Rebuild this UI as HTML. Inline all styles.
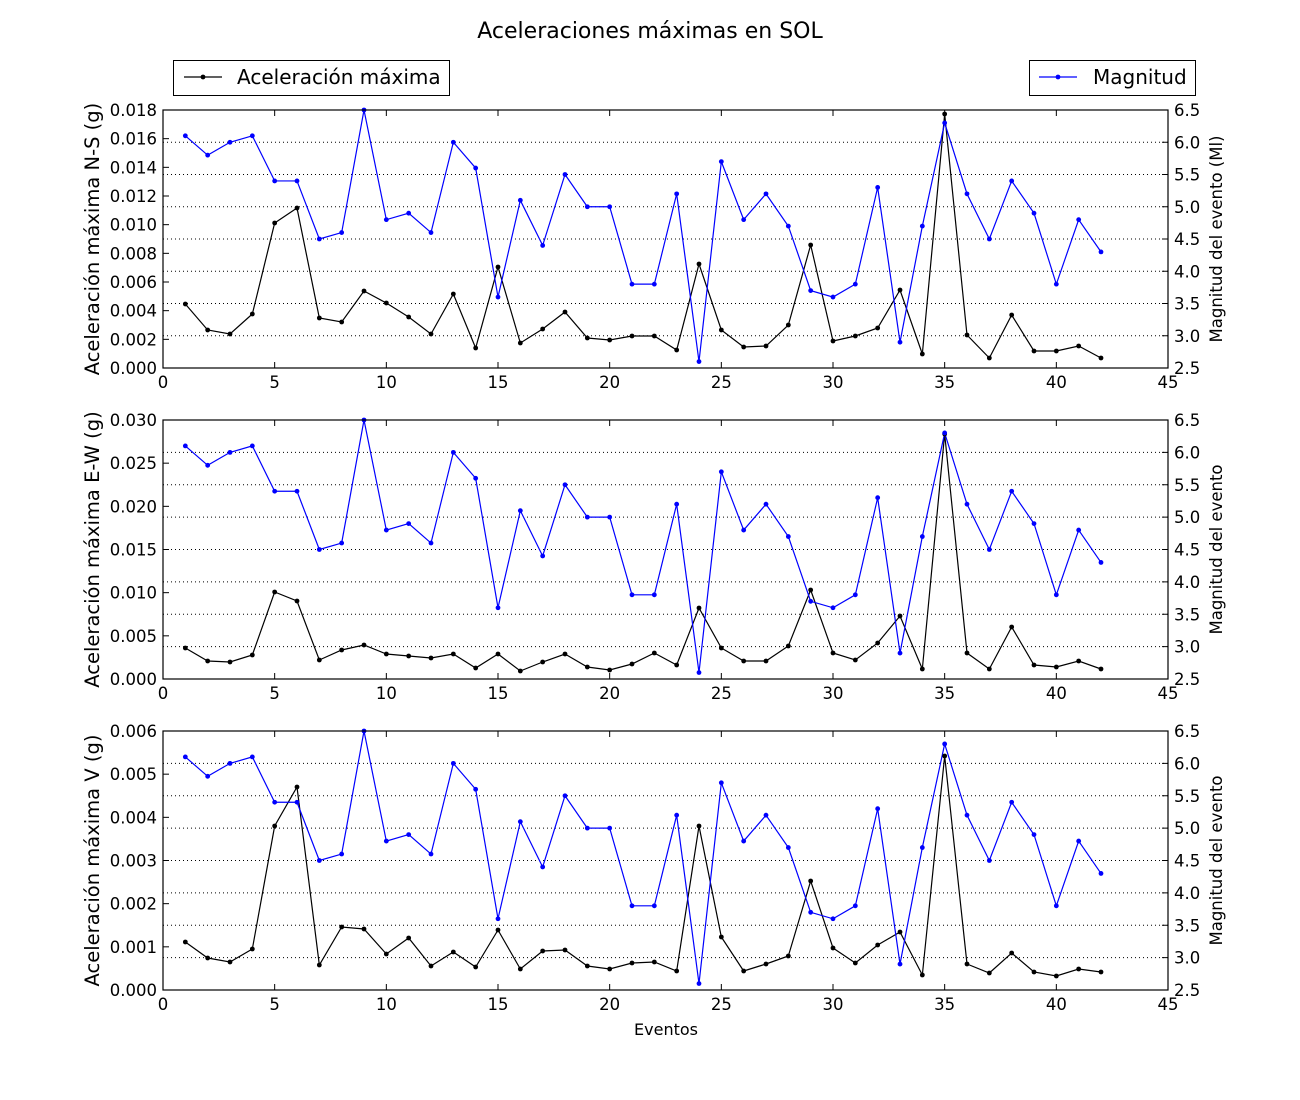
<!DOCTYPE html>
<html><head><meta charset="utf-8"><style>
html,body{margin:0;padding:0;background:#fff;}
svg{display:block;font-family:"DejaVu Sans","Liberation Sans",sans-serif;}
</style></head><body>
<svg id="s" width="1300" height="1100" xmlns="http://www.w3.org/2000/svg"></svg>
<script>
const S=document.getElementById('s');let h='';
const X0=163,X1=1168;const xp=v=>X0+(X1-X0)*v/45;
const mag=[6.1,5.8,6.0,6.1,5.4,5.4,4.5,4.6,6.5,4.8,4.9,4.6,6.0,5.6,3.6,5.1,4.4,5.5,5.0,5.0,3.8,3.8,5.2,2.6,5.7,4.8,5.2,4.7,3.7,3.6,3.8,5.3,2.9,4.7,6.3,5.2,4.5,5.4,4.9,3.8,4.8,4.3];
const P=[
{t:110,b:368,max:0.018,step:0.002,lab:'Aceleración máxima N-S (g)',rl:'Magnitud del evento (Ml)',
d:[304,330,334,314,223,208,318,322,291,303,317,334,294,348,267,343,329,312,338,340,336,336,350,264,330,347,346,325,245,341,336,328,290,354,114,335,358,315,351,351,346,358]},
{t:420,b:679,max:0.030,step:0.005,lab:'Aceleración máxima E-W (g)',rl:'Magnitud del evento',
d:[648,661,662,655,592,601,660,650,645,654,656,658,654,668,654,671,662,654,667,670,664,653,665,608,648,661,661,646,590,653,660,643,616,669,434,653,669,627,665,667,661,669]},
{t:731,b:990,max:0.006,step:0.001,lab:'Aceleración máxima V (g)',rl:'Magnitud del evento',
d:[942,958,962,949,826,787,965,927,929,954,938,966,952,967,930,969,951,950,966,969,963,962,971,826,937,971,964,956,881,948,963,945,932,975,756,964,973,953,972,976,969,972]}];
P.forEach(p=>{
 const H=p.b-p.t, my=m=>p.b-H*(m-2.5)/4;
 for(let m=3;m<6.5;m+=0.5){const y=my(m);h+=`<line x1="${X0}" x2="${X1}" y1="${y}" y2="${y}" stroke="#000" stroke-width="1" stroke-dasharray="1,3"/>`;}
 for(let v=0;v<=45;v+=5){const x=xp(v);h+=`<line x1="${x}" x2="${x}" y1="${p.b}" y2="${p.b-6}" stroke="#000"/><line x1="${x}" x2="${x}" y1="${p.t}" y2="${p.t+6}" stroke="#000"/><text x="${x}" y="${p.b+20}" font-size="16.5" text-anchor="middle">${v}</text>`;}
 const n=Math.round(p.max/p.step);
 for(let i=0;i<=n;i++){const y=p.b-H*i/n;h+=`<line x1="${X0}" x2="${X0+6}" y1="${y}" y2="${y}" stroke="#000"/><text x="${X0-6}" y="${y+6}" font-size="16.5" text-anchor="end">${(i*p.step).toFixed(3)}</text>`;}
 for(let m=2.5;m<=6.5;m+=0.5){const y=my(m);h+=`<line x1="${X1}" x2="${X1-6}" y1="${y}" y2="${y}" stroke="#000"/><text x="${X1+6}" y="${y+6}" font-size="16.5">${m.toFixed(1)}</text>`;}
 const pa=p.d.map((y,i)=>`${xp(i+1)},${y}`).join(' ');
 const pm=mag.map((m,i)=>`${xp(i+1)},${my(m)}`).join(' ');
 h+=`<polyline points="${pa}" fill="none" stroke="#000" stroke-width="1.2"/>`;
 h+=`<polyline points="${pm}" fill="none" stroke="#00f" stroke-width="1.2"/>`;
 p.d.forEach((y,i)=>h+=`<circle cx="${xp(i+1)}" cy="${y}" r="2.4" fill="#000"/>`);
 mag.forEach((m,i)=>h+=`<circle cx="${xp(i+1)}" cy="${my(m)}" r="2.4" fill="#00f"/>`);
 h+=`<rect x="${X0}" y="${p.t}" width="${X1-X0}" height="${H}" fill="none" stroke="#000" stroke-width="1.2"/>`;
 const cy=(p.t+p.b)/2;
 h+=`<text transform="translate(99,${cy}) rotate(-90)" font-size="19.5" text-anchor="middle">${p.lab}</text>`;
 h+=`<text transform="translate(1222,${cy}) rotate(-90)" font-size="16.5" text-anchor="middle">${p.rl}</text>`;
});
h+=`<text x="650" y="38" font-size="22" text-anchor="middle">Aceleraciones máximas en SOL</text>`;
h+=`<text x="666" y="1035" font-size="16" text-anchor="middle">Eventos</text>`;
h+=`<rect x="173.5" y="60.5" width="276" height="35" fill="#fff" stroke="#000"/><line x1="184" x2="222" y1="77" y2="77" stroke="#000" stroke-width="1.2"/><circle cx="203" cy="77" r="2.4"/><text x="237" y="84" font-size="20">Aceleración máxima</text>`;
h+=`<rect x="1029.5" y="60.5" width="166" height="35" fill="#fff" stroke="#000"/><line x1="1039" x2="1077" y1="77" y2="77" stroke="#00f" stroke-width="1.2"/><circle cx="1058" cy="77" r="2.4" fill="#00f"/><text x="1093" y="84" font-size="20">Magnitud</text>`;
S.innerHTML=h;
</script>
</body></html>
